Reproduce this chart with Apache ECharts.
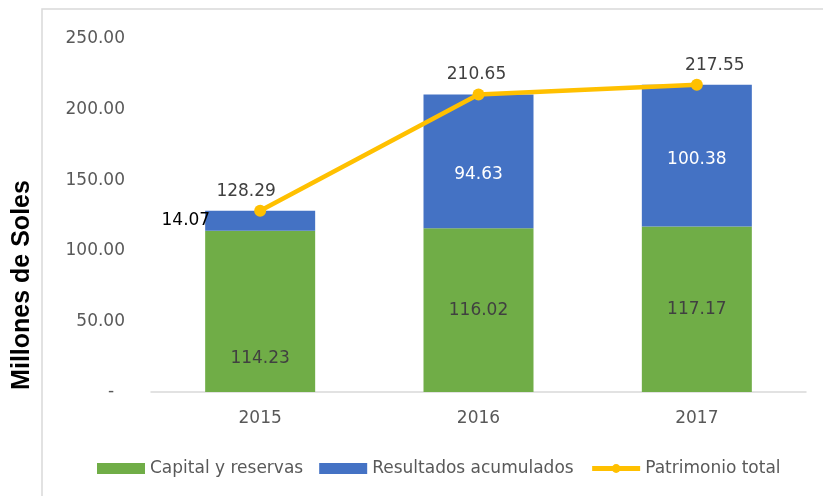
<!DOCTYPE html>
<html>
<head>
<meta charset="utf-8">
<script src="https://cdn.jsdelivr.net/npm/echarts@6/dist/echarts.min.js"></script>
<style>
  html, body { margin: 0; padding: 0; background: #fff; }
  #box1 { width: 823px; height: 496px; }
</style>
</head>
<body>
<div id="box1"></div>
<script>
var years = ['2015', '2016', '2017'];
var capital = [114.23, 116.02, 117.17];
var resultados = [14.07, 94.63, 100.38];
var patrimonio = [128.29, 210.65, 217.55];
var yTicks = [0, 50, 100, 150, 200, 250];

var dom = document.getElementById("box1");
var myChart = echarts.init(dom);
var fontMain = "DejaVu Sans";

// label offsets picked by eye to sit where the original put them
var capitalOffsets = [[0, 47], [0, 0], [0, 0]];
var resultadosOffsets = [[0, 0], [0, 13], [0, 4]];
var lineOffsets = [[-14, 0], [-2, 0], [18, 0]];

var capitalData = capital.map(function (v, i) {
    return { value: v, label: { offset: capitalOffsets[i] } };
});
var resultadosData = resultados.map(function (v, i) {
    var item = { value: v, label: { offset: resultadosOffsets[i] } };
    if (i === 0) {
        // small segment: label outside on the left, black
        item.label = { position: 'left', distance: -5, color: '#000' };
    }
    return item;
});
var lineData = patrimonio.map(function (v, i) {
    return { value: v, label: { offset: lineOffsets[i] } };
});

option = {
    backgroundColor: '#fff',
    animation: false,
    grid: {
        left: 151,
        right: 17,
        top: 39,
        bottom: 104
    },
    legend: {
        left: 92,
        top: 455,
        itemWidth: 48,
        itemHeight: 11,
        itemGap: 16,
        textStyle: {
            color: '#595959',
            fontSize: 17,
            fontFamily: fontMain
        },
        data: [
            { name: 'Capital y reservas', icon: 'rect' },
            { name: 'Resultados acumulados', icon: 'rect' },
            { name: 'Patrimonio total', lineStyle: { width: 5 } }
        ]
    },
    xAxis: {
        type: 'category',
        data: years,
        axisLine: { lineStyle: { color: '#d9d9d9', width: 1.5 } },
        axisTick: { show: false },
        axisLabel: {
            color: '#595959',
            fontSize: 17,
            fontFamily: fontMain,
            margin: 18
        }
    },
    yAxis: {
        type: 'value',
        min: yTicks[0],
        max: yTicks[yTicks.length - 1],
        interval: 50,
        splitLine: { show: false },
        axisLine: { show: false },
        axisTick: { show: false },
        axisLabel: {
            color: '#595959',
            fontSize: 17,
            fontFamily: fontMain,
            margin: 26,
            formatter: function (v) {
                return v === 0 ? '-  ' : v.toFixed(2);
            }
        }
    },
    graphic: [
        {
            type: 'rect',
            shape: { x: 42, y: 9, width: 900, height: 600 },
            style: { fill: null, stroke: '#d9d9d9', lineWidth: 1.5 },
            silent: true
        },
        {
            type: 'text',
            x: 22,
            y: 285,
            rotation: Math.PI / 2,
            style: {
                text: 'Millones de Soles',
                font: 'bold 25px "Liberation Sans", Arial, sans-serif',
                fill: '#000',
                align: 'center',
                verticalAlign: 'middle'
            }
        }
    ],
    series: [
        {
            name: 'Capital y reservas',
            type: 'bar',
            stack: 'total',
            barWidth: 110,
            itemStyle: { color: '#70AD47' },
            label: {
                show: true,
                position: 'inside',
                color: '#404040',
                fontSize: 17,
                fontFamily: fontMain,
                formatter: function (p) { return p.value.toFixed(2); }
            },
            data: capitalData
        },
        {
            name: 'Resultados acumulados',
            type: 'bar',
            stack: 'total',
            barWidth: 110,
            itemStyle: { color: '#4472C4' },
            label: {
                show: true,
                position: 'inside',
                color: '#fff',
                fontSize: 17,
                fontFamily: fontMain,
                formatter: function (p) { return p.value.toFixed(2); }
            },
            data: resultadosData
        },
        {
            name: 'Patrimonio total',
            type: 'line',
            symbol: 'circle',
            symbolSize: 12,
            itemStyle: { color: '#FFC000' },
            lineStyle: { color: '#FFC000', width: 4.5 },
            label: {
                show: true,
                position: 'top',
                color: '#404040',
                fontSize: 17,
                fontFamily: fontMain,
                formatter: function (p) { return p.value.toFixed(2); }
            },
            z: 5,
            data: lineData
        }
    ]
};
if (option && typeof option === "object") {
    myChart.setOption(option, true);
}
</script>
</body>
</html>
